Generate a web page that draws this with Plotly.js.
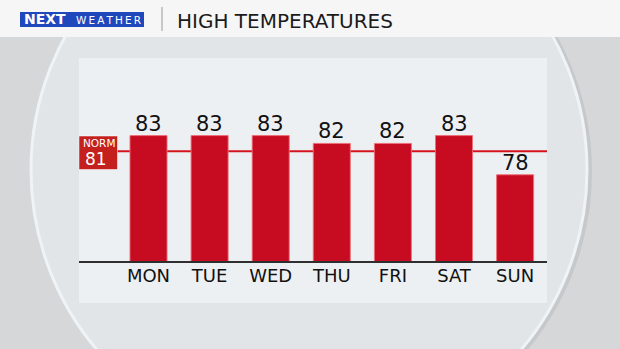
<!DOCTYPE html>
<html>
<head>
<meta charset="utf-8">
<script src="https://cdn.plot.ly/plotly-3.0.1.min.js"></script>
<style>html,body{margin:0;padding:0;background:#d8dadc;}#chart{width:620px;height:349px;}</style>
</head>
<body>
<div id="chart"></div>
<script>
// ---- data ----
const days = ["MON", "TUE", "WED", "THU", "FRI", "SAT", "SUN"];
const highs = [83, 83, 83, 82, 82, 83, 78];
const normalHigh = 81;
const chartTitle = "HIGH TEMPERATURES";
const normLabel = "NORM";

// ---- layout geometry (pixels) ----
const W = 620, H = 349;
const L = 79, R = 547, T = 58, B = 261;
const pw = R - L, ph = B - T;
const px = x => (x - L) / pw;
const py = y => (B - y) / ph;

const FONT = "DejaVu Sans, Liberation Sans, Arial, sans-serif";

const trace = {
  type: "bar",
  x: days,
  y: highs,
  width: 0.606,
  marker: { color: "#c70c22", line: { color: "rgba(238,110,120,0.9)", width: 1 } },
  hoverinfo: "skip"
};

const shapes = [
  // big circle (shadow + face)
  { type: "circle", xref: "paper", yref: "paper", layer: "below",
    x0: px(33), x1: px(592), y0: py(451), y1: py(-108),
    fillcolor: "#c6c8ca", line: { width: 0 } },
  { type: "circle", xref: "paper", yref: "paper", layer: "below",
    x0: px(31), x1: px(587), y0: py(448), y1: py(-108),
    fillcolor: "#e1e5e7", line: { color: "#edf3f6", width: 3 } },
  // header
  { type: "rect", xref: "paper", yref: "paper", layer: "below",
    x0: px(0), x1: px(620), y0: py(37), y1: py(0),
    fillcolor: "#f6f6f6", line: { width: 0 } },
  // logo box
  { type: "rect", xref: "paper", yref: "paper", layer: "below",
    x0: px(20), x1: px(144), y0: py(27), y1: py(12),
    fillcolor: "#1f48bd", line: { width: 0 } },
  // separator
  { type: "line", xref: "paper", yref: "paper", layer: "below",
    x0: px(162), x1: px(162), y0: py(31), y1: py(7),
    line: { color: "#9a9a9a", width: 1 } },
  // panel
  { type: "rect", xref: "paper", yref: "paper", layer: "below",
    x0: px(79), x1: px(547), y0: py(303), y1: py(58),
    fillcolor: "#edf0f2", line: { width: 0 } },
  // normal line
  { type: "line", xref: "paper", yref: "y", layer: "below",
    x0: px(117), x1: 1, y0: normalHigh, y1: normalHigh,
    line: { color: "#d3141f", width: 2 } },
  // norm box
  { type: "rect", xref: "paper", yref: "paper", layer: "above",
    x0: px(79), x1: px(117.5), y0: py(169.5), y1: py(136),
    fillcolor: "#c3201e", line: { color: "rgba(255,255,255,0.5)", width: 1 } }
];

const annotations = [
  { xref: "paper", yref: "paper", x: px(98.5), y: py(142.5), text: normLabel,
    showarrow: false, xanchor: "center", yanchor: "middle",
    font: { family: FONT, size: 10.5, color: "#ffffff" } },
  { xref: "paper", yref: "paper", x: px(95.5), y: py(159), text: String(normalHigh),
    showarrow: false, xanchor: "center", yanchor: "middle",
    font: { family: FONT, size: 17, color: "#ffffff" } },
  { xref: "paper", yref: "paper", x: px(175), y: py(20.5), text: chartTitle,
    showarrow: false, xanchor: "left", yanchor: "middle",
    font: { family: FONT, size: 20, color: "#1b1b1b" } },
  { xref: "paper", yref: "paper", x: px(22), y: py(19.5), text: "<b>NEXT</b>",
    showarrow: false, xanchor: "left", yanchor: "middle",
    font: { family: FONT, size: 14, color: "#ffffff" } },
  { xref: "paper", yref: "paper", x: px(74), y: py(20), text: "W\u2009E\u2009A\u2009T\u2009H\u2009E\u2009R",
    showarrow: false, xanchor: "left", yanchor: "middle",
    font: { family: FONT, size: 10.5, color: "#ffffff" } }
].concat(days.map((d, i) => ({
  xref: "x", yref: "y", x: d, y: highs[i], text: String(highs[i]),
  showarrow: false, xanchor: "center", yanchor: "middle", yshift: 12,
  font: { family: FONT, size: 21, color: "#111" }
})));

const layout = {
  width: W, height: H,
  margin: { l: L, r: W - R, t: T, b: H - B, pad: 0 },
  paper_bgcolor: "#d5d7d9",
  plot_bgcolor: "rgba(0,0,0,0)",
  showlegend: false,
  xaxis: {
    type: "category",
    range: [-1.1375, 6.522],
    showgrid: false, zeroline: false,
    showline: true, linecolor: "#2f2f2f", linewidth: 2,
    ticks: "", ticklabelstandoff: -3,
    tickfont: { family: FONT, size: 18, color: "#111" },
    fixedrange: true
  },
  yaxis: {
    range: [67, 92.9],
    showgrid: false, zeroline: false, showline: false,
    showticklabels: false, ticks: "",
    fixedrange: true
  },
  shapes: shapes,
  annotations: annotations
};

Plotly.newPlot("chart", [trace], layout, { displayModeBar: false, staticPlot: true });
</script>
</body>
</html>
